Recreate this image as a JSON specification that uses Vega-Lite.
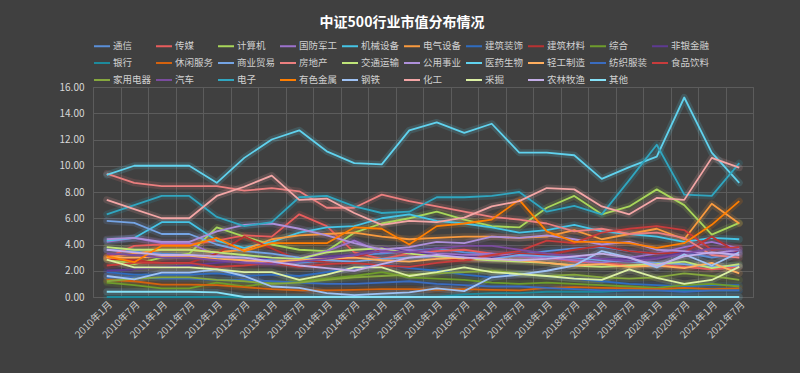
{
"$schema":"https://vega.github.io/schema/vega-lite/v6.json",
"autosize":{"type":"none"},
"width":660,"height":210,
"padding":{"left":93,"top":87,"right":47,"bottom":76},
"background":"#404040",
"title":{"text":"中证500行业市值分布情况","color":"#ffffff","fontSize":14,"fontWeight":"bold","font":"Noto Sans CJK SC","anchor":"middle","dx":-21,"offset":7},
"data":{"values":[
{"t":"2010年1月","s":"通信","v":3.6},{"t":"2010年7月","s":"通信","v":3.5},{"t":"2011年1月","s":"通信","v":3.3},{"t":"2011年7月","s":"通信","v":3.2},{"t":"2012年1月","s":"通信","v":3.0},{"t":"2012年7月","s":"通信","v":3.0},{"t":"2013年1月","s":"通信","v":2.8},{"t":"2013年7月","s":"通信","v":2.6},{"t":"2014年1月","s":"通信","v":2.8},{"t":"2014年7月","s":"通信","v":3.2},{"t":"2015年1月","s":"通信","v":3.3},{"t":"2015年7月","s":"通信","v":3.5},{"t":"2016年1月","s":"通信","v":3.7},{"t":"2016年7月","s":"通信","v":3.4},{"t":"2017年1月","s":"通信","v":3.3},{"t":"2017年7月","s":"通信","v":3.2},{"t":"2018年1月","s":"通信","v":3.5},{"t":"2018年7月","s":"通信","v":3.7},{"t":"2019年1月","s":"通信","v":3.8},{"t":"2019年7月","s":"通信","v":3.5},{"t":"2020年1月","s":"通信","v":3.3},{"t":"2020年7月","s":"通信","v":3.4},{"t":"2021年1月","s":"通信","v":3.0},{"t":"2021年7月","s":"通信","v":3.3},
{"t":"2010年1月","s":"传媒","v":3.0},{"t":"2010年7月","s":"传媒","v":3.9},{"t":"2011年1月","s":"传媒","v":4.0},{"t":"2011年7月","s":"传媒","v":4.0},{"t":"2012年1月","s":"传媒","v":4.3},{"t":"2012年7月","s":"传媒","v":4.7},{"t":"2013年1月","s":"传媒","v":4.6},{"t":"2013年7月","s":"传媒","v":6.3},{"t":"2014年1月","s":"传媒","v":5.4},{"t":"2014年7月","s":"传媒","v":3.4},{"t":"2015年1月","s":"传媒","v":2.9},{"t":"2015年7月","s":"传媒","v":3.3},{"t":"2016年1月","s":"传媒","v":3.5},{"t":"2016年7月","s":"传媒","v":3.6},{"t":"2017年1月","s":"传媒","v":3.3},{"t":"2017年7月","s":"传媒","v":3.1},{"t":"2018年1月","s":"传媒","v":3.0},{"t":"2018年7月","s":"传媒","v":2.7},{"t":"2019年1月","s":"传媒","v":2.6},{"t":"2019年7月","s":"传媒","v":2.4},{"t":"2020年1月","s":"传媒","v":2.5},{"t":"2020年7月","s":"传媒","v":2.3},{"t":"2021年1月","s":"传媒","v":2.1},{"t":"2021年7月","s":"传媒","v":2.3},
{"t":"2010年1月","s":"计算机","v":2.9},{"t":"2010年7月","s":"计算机","v":2.5},{"t":"2011年1月","s":"计算机","v":3.0},{"t":"2011年7月","s":"计算机","v":3.3},{"t":"2012年1月","s":"计算机","v":5.3},{"t":"2012年7月","s":"计算机","v":4.6},{"t":"2013年1月","s":"计算机","v":4.0},{"t":"2013年7月","s":"计算机","v":3.6},{"t":"2014年1月","s":"计算机","v":3.5},{"t":"2014年7月","s":"计算机","v":4.9},{"t":"2015年1月","s":"计算机","v":5.6},{"t":"2015年7月","s":"计算机","v":6.0},{"t":"2016年1月","s":"计算机","v":6.5},{"t":"2016年7月","s":"计算机","v":5.9},{"t":"2017年1月","s":"计算机","v":5.4},{"t":"2017年7月","s":"计算机","v":5.3},{"t":"2018年1月","s":"计算机","v":6.8},{"t":"2018年7月","s":"计算机","v":7.7},{"t":"2019年1月","s":"计算机","v":6.3},{"t":"2019年7月","s":"计算机","v":6.9},{"t":"2020年1月","s":"计算机","v":8.2},{"t":"2020年7月","s":"计算机","v":7.0},{"t":"2021年1月","s":"计算机","v":4.75},{"t":"2021年7月","s":"计算机","v":5.65},
{"t":"2010年1月","s":"国防军工","v":4.2},{"t":"2010年7月","s":"国防军工","v":4.5},{"t":"2011年1月","s":"国防军工","v":4.1},{"t":"2011年7月","s":"国防军工","v":4.1},{"t":"2012年1月","s":"国防军工","v":3.2},{"t":"2012年7月","s":"国防军工","v":2.7},{"t":"2013年1月","s":"国防军工","v":2.6},{"t":"2013年7月","s":"国防军工","v":2.9},{"t":"2014年1月","s":"国防军工","v":3.5},{"t":"2014年7月","s":"国防军工","v":4.3},{"t":"2015年1月","s":"国防军工","v":3.4},{"t":"2015年7月","s":"国防军工","v":3.6},{"t":"2016年1月","s":"国防军工","v":3.3},{"t":"2016年7月","s":"国防军工","v":3.2},{"t":"2017年1月","s":"国防军工","v":3.3},{"t":"2017年7月","s":"国防军工","v":3.1},{"t":"2018年1月","s":"国防军工","v":3.0},{"t":"2018年7月","s":"国防军工","v":2.8},{"t":"2019年1月","s":"国防军工","v":2.6},{"t":"2019年7月","s":"国防军工","v":3.0},{"t":"2020年1月","s":"国防军工","v":3.3},{"t":"2020年7月","s":"国防军工","v":3.8},{"t":"2021年1月","s":"国防军工","v":4.2},{"t":"2021年7月","s":"国防军工","v":3.7},
{"t":"2010年1月","s":"机械设备","v":4.3},{"t":"2010年7月","s":"机械设备","v":4.5},{"t":"2011年1月","s":"机械设备","v":5.7},{"t":"2011年7月","s":"机械设备","v":5.7},{"t":"2012年1月","s":"机械设备","v":4.3},{"t":"2012年7月","s":"机械设备","v":3.75},{"t":"2013年1月","s":"机械设备","v":4.2},{"t":"2013年7月","s":"机械设备","v":4.9},{"t":"2014年1月","s":"机械设备","v":5.3},{"t":"2014年7月","s":"机械设备","v":5.4},{"t":"2015年1月","s":"机械设备","v":6.0},{"t":"2015年7月","s":"机械设备","v":6.3},{"t":"2016年1月","s":"机械设备","v":5.8},{"t":"2016年7月","s":"机械设备","v":5.6},{"t":"2017年1月","s":"机械设备","v":5.3},{"t":"2017年7月","s":"机械设备","v":4.9},{"t":"2018年1月","s":"机械设备","v":5.1},{"t":"2018年7月","s":"机械设备","v":5.5},{"t":"2019年1月","s":"机械设备","v":5.0},{"t":"2019年7月","s":"机械设备","v":4.8},{"t":"2020年1月","s":"机械设备","v":4.6},{"t":"2020年7月","s":"机械设备","v":4.2},{"t":"2021年1月","s":"机械设备","v":4.5},{"t":"2021年7月","s":"机械设备","v":4.4},
{"t":"2010年1月","s":"电气设备","v":3.0},{"t":"2010年7月","s":"电气设备","v":3.3},{"t":"2011年1月","s":"电气设备","v":3.6},{"t":"2011年7月","s":"电气设备","v":3.6},{"t":"2012年1月","s":"电气设备","v":3.4},{"t":"2012年7月","s":"电气设备","v":3.6},{"t":"2013年1月","s":"电气设备","v":4.4},{"t":"2013年7月","s":"电气设备","v":4.7},{"t":"2014年1月","s":"电气设备","v":4.8},{"t":"2014年7月","s":"电气设备","v":4.9},{"t":"2015年1月","s":"电气设备","v":4.6},{"t":"2015年7月","s":"电气设备","v":4.4},{"t":"2016年1月","s":"电气设备","v":4.5},{"t":"2016年7月","s":"电气设备","v":4.6},{"t":"2017年1月","s":"电气设备","v":4.6},{"t":"2017年7月","s":"电气设备","v":4.5},{"t":"2018年1月","s":"电气设备","v":4.6},{"t":"2018年7月","s":"电气设备","v":5.1},{"t":"2019年1月","s":"电气设备","v":4.4},{"t":"2019年7月","s":"电气设备","v":4.8},{"t":"2020年1月","s":"电气设备","v":5.2},{"t":"2020年7月","s":"电气设备","v":4.4},{"t":"2021年1月","s":"电气设备","v":7.1},{"t":"2021年7月","s":"电气设备","v":5.6},
{"t":"2010年1月","s":"建筑装饰","v":1.9},{"t":"2010年7月","s":"建筑装饰","v":1.7},{"t":"2011年1月","s":"建筑装饰","v":1.7},{"t":"2011年7月","s":"建筑装饰","v":1.7},{"t":"2012年1月","s":"建筑装饰","v":1.8},{"t":"2012年7月","s":"建筑装饰","v":1.6},{"t":"2013年1月","s":"建筑装饰","v":1.7},{"t":"2013年7月","s":"建筑装饰","v":1.6},{"t":"2014年1月","s":"建筑装饰","v":1.9},{"t":"2014年7月","s":"建筑装饰","v":2.2},{"t":"2015年1月","s":"建筑装饰","v":2.5},{"t":"2015年7月","s":"建筑装饰","v":2.2},{"t":"2016年1月","s":"建筑装饰","v":2.0},{"t":"2016年7月","s":"建筑装饰","v":1.7},{"t":"2017年1月","s":"建筑装饰","v":1.5},{"t":"2017年7月","s":"建筑装饰","v":1.8},{"t":"2018年1月","s":"建筑装饰","v":1.6},{"t":"2018年7月","s":"建筑装饰","v":1.4},{"t":"2019年1月","s":"建筑装饰","v":1.2},{"t":"2019年7月","s":"建筑装饰","v":1.0},{"t":"2020年1月","s":"建筑装饰","v":0.9},{"t":"2020年7月","s":"建筑装饰","v":0.8},{"t":"2021年1月","s":"建筑装饰","v":0.9},{"t":"2021年7月","s":"建筑装饰","v":0.9},
{"t":"2010年1月","s":"建筑材料","v":2.9},{"t":"2010年7月","s":"建筑材料","v":2.8},{"t":"2011年1月","s":"建筑材料","v":2.6},{"t":"2011年7月","s":"建筑材料","v":2.6},{"t":"2012年1月","s":"建筑材料","v":3.3},{"t":"2012年7月","s":"建筑材料","v":4.6},{"t":"2013年1月","s":"建筑材料","v":3.7},{"t":"2013年7月","s":"建筑材料","v":2.8},{"t":"2014年1月","s":"建筑材料","v":2.7},{"t":"2014年7月","s":"建筑材料","v":3.0},{"t":"2015年1月","s":"建筑材料","v":3.6},{"t":"2015年7月","s":"建筑材料","v":3.3},{"t":"2016年1月","s":"建筑材料","v":3.0},{"t":"2016年7月","s":"建筑材料","v":2.8},{"t":"2017年1月","s":"建筑材料","v":2.9},{"t":"2017年7月","s":"建筑材料","v":3.3},{"t":"2018年1月","s":"建筑材料","v":3.2},{"t":"2018年7月","s":"建筑材料","v":3.6},{"t":"2019年1月","s":"建筑材料","v":3.9},{"t":"2019年7月","s":"建筑材料","v":3.5},{"t":"2020年1月","s":"建筑材料","v":3.3},{"t":"2020年7月","s":"建筑材料","v":3.4},{"t":"2021年1月","s":"建筑材料","v":4.6},{"t":"2021年7月","s":"建筑材料","v":3.3},
{"t":"2010年1月","s":"综合","v":1.1},{"t":"2010年7月","s":"综合","v":0.9},{"t":"2011年1月","s":"综合","v":0.65},{"t":"2011年7月","s":"综合","v":0.65},{"t":"2012年1月","s":"综合","v":1.1},{"t":"2012年7月","s":"综合","v":0.8},{"t":"2013年1月","s":"综合","v":1.1},{"t":"2013年7月","s":"综合","v":1.2},{"t":"2014年1月","s":"综合","v":1.4},{"t":"2014年7月","s":"综合","v":1.6},{"t":"2015年1月","s":"综合","v":1.9},{"t":"2015年7月","s":"综合","v":1.5},{"t":"2016年1月","s":"综合","v":1.4},{"t":"2016年7月","s":"综合","v":1.3},{"t":"2017年1月","s":"综合","v":1.1},{"t":"2017年7月","s":"综合","v":1.0},{"t":"2018年1月","s":"综合","v":1.1},{"t":"2018年7月","s":"综合","v":1.0},{"t":"2019年1月","s":"综合","v":0.9},{"t":"2019年7月","s":"综合","v":0.8},{"t":"2020年1月","s":"综合","v":0.7},{"t":"2020年7月","s":"综合","v":0.9},{"t":"2021年1月","s":"综合","v":1.0},{"t":"2021年7月","s":"综合","v":0.8},
{"t":"2010年1月","s":"非银金融","v":2.0},{"t":"2010年7月","s":"非银金融","v":2.1},{"t":"2011年1月","s":"非银金融","v":2.3},{"t":"2011年7月","s":"非银金融","v":2.4},{"t":"2012年1月","s":"非银金融","v":2.6},{"t":"2012年7月","s":"非银金融","v":2.8},{"t":"2013年1月","s":"非银金融","v":3.0},{"t":"2013年7月","s":"非银金融","v":2.9},{"t":"2014年1月","s":"非银金融","v":3.1},{"t":"2014年7月","s":"非银金融","v":3.2},{"t":"2015年1月","s":"非银金融","v":3.8},{"t":"2015年7月","s":"非银金融","v":3.4},{"t":"2016年1月","s":"非银金融","v":3.2},{"t":"2016年7月","s":"非银金融","v":3.1},{"t":"2017年1月","s":"非银金融","v":3.0},{"t":"2017年7月","s":"非银金融","v":3.2},{"t":"2018年1月","s":"非银金融","v":3.1},{"t":"2018年7月","s":"非银金融","v":3.0},{"t":"2019年1月","s":"非银金融","v":2.9},{"t":"2019年7月","s":"非银金融","v":2.9},{"t":"2020年1月","s":"非银金融","v":3.0},{"t":"2020年7月","s":"非银金融","v":3.4},{"t":"2021年1月","s":"非银金融","v":3.3},{"t":"2021年7月","s":"非银金融","v":3.4},
{"t":"2010年1月","s":"银行","v":0},{"t":"2010年7月","s":"银行","v":0},{"t":"2011年1月","s":"银行","v":0},{"t":"2011年7月","s":"银行","v":0},{"t":"2012年1月","s":"银行","v":0},{"t":"2012年7月","s":"银行","v":0},{"t":"2013年1月","s":"银行","v":0},{"t":"2013年7月","s":"银行","v":0},{"t":"2014年1月","s":"银行","v":0},{"t":"2014年7月","s":"银行","v":0},{"t":"2015年1月","s":"银行","v":0},{"t":"2015年7月","s":"银行","v":0},{"t":"2016年1月","s":"银行","v":0},{"t":"2016年7月","s":"银行","v":0.2},{"t":"2017年1月","s":"银行","v":0.3},{"t":"2017年7月","s":"银行","v":0.3},{"t":"2018年1月","s":"银行","v":0.4},{"t":"2018年7月","s":"银行","v":0.4},{"t":"2019年1月","s":"银行","v":0.4},{"t":"2019年7月","s":"银行","v":0.5},{"t":"2020年1月","s":"银行","v":0.5},{"t":"2020年7月","s":"银行","v":0.5},{"t":"2021年1月","s":"银行","v":0.5},{"t":"2021年7月","s":"银行","v":0.5},
{"t":"2010年1月","s":"休闲服务","v":1.3},{"t":"2010年7月","s":"休闲服务","v":1.2},{"t":"2011年1月","s":"休闲服务","v":0.95},{"t":"2011年7月","s":"休闲服务","v":0.95},{"t":"2012年1月","s":"休闲服务","v":0.9},{"t":"2012年7月","s":"休闲服务","v":0.75},{"t":"2013年1月","s":"休闲服务","v":0.6},{"t":"2013年7月","s":"休闲服务","v":0.5},{"t":"2014年1月","s":"休闲服务","v":0.5},{"t":"2014年7月","s":"休闲服务","v":0.55},{"t":"2015年1月","s":"休闲服务","v":0.6},{"t":"2015年7月","s":"休闲服务","v":0.6},{"t":"2016年1月","s":"休闲服务","v":0.55},{"t":"2016年7月","s":"休闲服务","v":0.6},{"t":"2017年1月","s":"休闲服务","v":0.55},{"t":"2017年7月","s":"休闲服务","v":0.5},{"t":"2018年1月","s":"休闲服务","v":0.7},{"t":"2018年7月","s":"休闲服务","v":0.75},{"t":"2019年1月","s":"休闲服务","v":0.7},{"t":"2019年7月","s":"休闲服务","v":0.65},{"t":"2020年1月","s":"休闲服务","v":0.6},{"t":"2020年7月","s":"休闲服务","v":0.7},{"t":"2021年1月","s":"休闲服务","v":0.6},{"t":"2021年7月","s":"休闲服务","v":0.65},
{"t":"2010年1月","s":"商业贸易","v":5.8},{"t":"2010年7月","s":"商业贸易","v":5.65},{"t":"2011年1月","s":"商业贸易","v":4.8},{"t":"2011年7月","s":"商业贸易","v":4.8},{"t":"2012年1月","s":"商业贸易","v":4.0},{"t":"2012年7月","s":"商业贸易","v":3.5},{"t":"2013年1月","s":"商业贸易","v":3.3},{"t":"2013年7月","s":"商业贸易","v":3.0},{"t":"2014年1月","s":"商业贸易","v":2.8},{"t":"2014年7月","s":"商业贸易","v":2.7},{"t":"2015年1月","s":"商业贸易","v":2.9},{"t":"2015年7月","s":"商业贸易","v":3.0},{"t":"2016年1月","s":"商业贸易","v":3.1},{"t":"2016年7月","s":"商业贸易","v":3.0},{"t":"2017年1月","s":"商业贸易","v":2.9},{"t":"2017年7月","s":"商业贸易","v":3.2},{"t":"2018年1月","s":"商业贸易","v":3.1},{"t":"2018年7月","s":"商业贸易","v":3.0},{"t":"2019年1月","s":"商业贸易","v":2.8},{"t":"2019年7月","s":"商业贸易","v":2.7},{"t":"2020年1月","s":"商业贸易","v":2.6},{"t":"2020年7月","s":"商业贸易","v":2.5},{"t":"2021年1月","s":"商业贸易","v":2.3},{"t":"2021年7月","s":"商业贸易","v":2.4},
{"t":"2010年1月","s":"房地产","v":9.4},{"t":"2010年7月","s":"房地产","v":8.7},{"t":"2011年1月","s":"房地产","v":8.45},{"t":"2011年7月","s":"房地产","v":8.45},{"t":"2012年1月","s":"房地产","v":8.45},{"t":"2012年7月","s":"房地产","v":8.1},{"t":"2013年1月","s":"房地产","v":8.3},{"t":"2013年7月","s":"房地产","v":8.05},{"t":"2014年1月","s":"房地产","v":6.8},{"t":"2014年7月","s":"房地产","v":6.8},{"t":"2015年1月","s":"房地产","v":7.8},{"t":"2015年7月","s":"房地产","v":7.3},{"t":"2016年1月","s":"房地产","v":6.9},{"t":"2016年7月","s":"房地产","v":6.5},{"t":"2017年1月","s":"房地产","v":6.1},{"t":"2017年7月","s":"房地产","v":5.9},{"t":"2018年1月","s":"房地产","v":5.6},{"t":"2018年7月","s":"房地产","v":5.0},{"t":"2019年1月","s":"房地产","v":5.2},{"t":"2019年7月","s":"房地产","v":4.8},{"t":"2020年1月","s":"房地产","v":4.9},{"t":"2020年7月","s":"房地产","v":4.5},{"t":"2021年1月","s":"房地产","v":3.2},{"t":"2021年7月","s":"房地产","v":3.0},
{"t":"2010年1月","s":"交通运输","v":3.8},{"t":"2010年7月","s":"交通运输","v":3.6},{"t":"2011年1月","s":"交通运输","v":3.6},{"t":"2011年7月","s":"交通运输","v":3.6},{"t":"2012年1月","s":"交通运输","v":3.4},{"t":"2012年7月","s":"交通运输","v":3.2},{"t":"2013年1月","s":"交通运输","v":3.0},{"t":"2013年7月","s":"交通运输","v":2.9},{"t":"2014年1月","s":"交通运输","v":3.4},{"t":"2014年7月","s":"交通运输","v":3.6},{"t":"2015年1月","s":"交通运输","v":3.7},{"t":"2015年7月","s":"交通运输","v":3.3},{"t":"2016年1月","s":"交通运输","v":3.1},{"t":"2016年7月","s":"交通运输","v":2.9},{"t":"2017年1月","s":"交通运输","v":2.8},{"t":"2017年7月","s":"交通运输","v":2.7},{"t":"2018年1月","s":"交通运输","v":2.6},{"t":"2018年7月","s":"交通运输","v":2.4},{"t":"2019年1月","s":"交通运输","v":2.3},{"t":"2019年7月","s":"交通运输","v":2.4},{"t":"2020年1月","s":"交通运输","v":2.5},{"t":"2020年7月","s":"交通运输","v":2.7},{"t":"2021年1月","s":"交通运输","v":2.2},{"t":"2021年7月","s":"交通运输","v":2.5},
{"t":"2010年1月","s":"公用事业","v":4.4},{"t":"2010年7月","s":"公用事业","v":4.5},{"t":"2011年1月","s":"公用事业","v":4.2},{"t":"2011年7月","s":"公用事业","v":4.2},{"t":"2012年1月","s":"公用事业","v":5.0},{"t":"2012年7月","s":"公用事业","v":5.5},{"t":"2013年1月","s":"公用事业","v":5.6},{"t":"2013年7月","s":"公用事业","v":5.2},{"t":"2014年1月","s":"公用事业","v":4.7},{"t":"2014年7月","s":"公用事业","v":4.1},{"t":"2015年1月","s":"公用事业","v":3.6},{"t":"2015年7月","s":"公用事业","v":3.8},{"t":"2016年1月","s":"公用事业","v":4.2},{"t":"2016年7月","s":"公用事业","v":4.1},{"t":"2017年1月","s":"公用事业","v":4.6},{"t":"2017年7月","s":"公用事业","v":4.5},{"t":"2018年1月","s":"公用事业","v":4.7},{"t":"2018年7月","s":"公用事业","v":4.4},{"t":"2019年1月","s":"公用事业","v":4.0},{"t":"2019年7月","s":"公用事业","v":4.2},{"t":"2020年1月","s":"公用事业","v":3.6},{"t":"2020年7月","s":"公用事业","v":3.5},{"t":"2021年1月","s":"公用事业","v":3.3},{"t":"2021年7月","s":"公用事业","v":3.6},
{"t":"2010年1月","s":"医药生物","v":9.3},{"t":"2010年7月","s":"医药生物","v":10.0},{"t":"2011年1月","s":"医药生物","v":10.0},{"t":"2011年7月","s":"医药生物","v":10.0},{"t":"2012年1月","s":"医药生物","v":8.7},{"t":"2012年7月","s":"医药生物","v":10.6},{"t":"2013年1月","s":"医药生物","v":12.0},{"t":"2013年7月","s":"医药生物","v":12.7},{"t":"2014年1月","s":"医药生物","v":11.1},{"t":"2014年7月","s":"医药生物","v":10.2},{"t":"2015年1月","s":"医药生物","v":10.1},{"t":"2015年7月","s":"医药生物","v":12.7},{"t":"2016年1月","s":"医药生物","v":13.3},{"t":"2016年7月","s":"医药生物","v":12.5},{"t":"2017年1月","s":"医药生物","v":13.2},{"t":"2017年7月","s":"医药生物","v":11.0},{"t":"2018年1月","s":"医药生物","v":11.0},{"t":"2018年7月","s":"医药生物","v":10.8},{"t":"2019年1月","s":"医药生物","v":9.0},{"t":"2019年7月","s":"医药生物","v":9.9},{"t":"2020年1月","s":"医药生物","v":10.7},{"t":"2020年7月","s":"医药生物","v":15.2},{"t":"2021年1月","s":"医药生物","v":11.0},{"t":"2021年7月","s":"医药生物","v":8.7},
{"t":"2010年1月","s":"轻工制造","v":3.0},{"t":"2010年7月","s":"轻工制造","v":3.0},{"t":"2011年1月","s":"轻工制造","v":3.1},{"t":"2011年7月","s":"轻工制造","v":3.1},{"t":"2012年1月","s":"轻工制造","v":2.9},{"t":"2012年7月","s":"轻工制造","v":2.8},{"t":"2013年1月","s":"轻工制造","v":2.7},{"t":"2013年7月","s":"轻工制造","v":2.8},{"t":"2014年1月","s":"轻工制造","v":2.9},{"t":"2014年7月","s":"轻工制造","v":3.0},{"t":"2015年1月","s":"轻工制造","v":2.8},{"t":"2015年7月","s":"轻工制造","v":2.7},{"t":"2016年1月","s":"轻工制造","v":2.9},{"t":"2016年7月","s":"轻工制造","v":3.0},{"t":"2017年1月","s":"轻工制造","v":2.9},{"t":"2017年7月","s":"轻工制造","v":2.8},{"t":"2018年1月","s":"轻工制造","v":2.6},{"t":"2018年7月","s":"轻工制造","v":2.4},{"t":"2019年1月","s":"轻工制造","v":2.5},{"t":"2019年7月","s":"轻工制造","v":2.3},{"t":"2020年1月","s":"轻工制造","v":2.4},{"t":"2020年7月","s":"轻工制造","v":2.2},{"t":"2021年1月","s":"轻工制造","v":2.6},{"t":"2021年7月","s":"轻工制造","v":1.8},
{"t":"2010年1月","s":"纺织服装","v":1.5},{"t":"2010年7月","s":"纺织服装","v":1.5},{"t":"2011年1月","s":"纺织服装","v":1.4},{"t":"2011年7月","s":"纺织服装","v":1.4},{"t":"2012年1月","s":"纺织服装","v":1.3},{"t":"2012年7月","s":"纺织服装","v":1.3},{"t":"2013年1月","s":"纺织服装","v":1.2},{"t":"2013年7月","s":"纺织服装","v":1.1},{"t":"2014年1月","s":"纺织服装","v":1.0},{"t":"2014年7月","s":"纺织服装","v":1.0},{"t":"2015年1月","s":"纺织服装","v":1.1},{"t":"2015年7月","s":"纺织服装","v":1.2},{"t":"2016年1月","s":"纺织服装","v":1.0},{"t":"2016年7月","s":"纺织服装","v":0.9},{"t":"2017年1月","s":"纺织服装","v":0.8},{"t":"2017年7月","s":"纺织服装","v":0.8},{"t":"2018年1月","s":"纺织服装","v":0.7},{"t":"2018年7月","s":"纺织服装","v":0.6},{"t":"2019年1月","s":"纺织服装","v":0.5},{"t":"2019年7月","s":"纺织服装","v":0.5},{"t":"2020年1月","s":"纺织服装","v":0.5},{"t":"2020年7月","s":"纺织服装","v":0.4},{"t":"2021年1月","s":"纺织服装","v":0.5},{"t":"2021年7月","s":"纺织服装","v":0.5},
{"t":"2010年1月","s":"食品饮料","v":2.4},{"t":"2010年7月","s":"食品饮料","v":2.6},{"t":"2011年1月","s":"食品饮料","v":2.6},{"t":"2011年7月","s":"食品饮料","v":2.6},{"t":"2012年1月","s":"食品饮料","v":2.3},{"t":"2012年7月","s":"食品饮料","v":2.4},{"t":"2013年1月","s":"食品饮料","v":2.6},{"t":"2013年7月","s":"食品饮料","v":2.3},{"t":"2014年1月","s":"食品饮料","v":2.5},{"t":"2014年7月","s":"食品饮料","v":2.6},{"t":"2015年1月","s":"食品饮料","v":2.4},{"t":"2015年7月","s":"食品饮料","v":2.3},{"t":"2016年1月","s":"食品饮料","v":2.6},{"t":"2016年7月","s":"食品饮料","v":2.8},{"t":"2017年1月","s":"食品饮料","v":3.2},{"t":"2017年7月","s":"食品饮料","v":3.5},{"t":"2018年1月","s":"食品饮料","v":4.3},{"t":"2018年7月","s":"食品饮料","v":4.1},{"t":"2019年1月","s":"食品饮料","v":4.9},{"t":"2019年7月","s":"食品饮料","v":5.2},{"t":"2020年1月","s":"食品饮料","v":5.4},{"t":"2020年7月","s":"食品饮料","v":5.1},{"t":"2021年1月","s":"食品饮料","v":3.6},{"t":"2021年7月","s":"食品饮料","v":3.8},
{"t":"2010年1月","s":"家用电器","v":1.2},{"t":"2010年7月","s":"家用电器","v":1.4},{"t":"2011年1月","s":"家用电器","v":1.5},{"t":"2011年7月","s":"家用电器","v":1.5},{"t":"2012年1月","s":"家用电器","v":1.3},{"t":"2012年7月","s":"家用电器","v":1.2},{"t":"2013年1月","s":"家用电器","v":1.0},{"t":"2013年7月","s":"家用电器","v":1.1},{"t":"2014年1月","s":"家用电器","v":1.3},{"t":"2014年7月","s":"家用电器","v":1.5},{"t":"2015年1月","s":"家用电器","v":1.6},{"t":"2015年7月","s":"家用电器","v":1.7},{"t":"2016年1月","s":"家用电器","v":1.8},{"t":"2016年7月","s":"家用电器","v":1.9},{"t":"2017年1月","s":"家用电器","v":2.0},{"t":"2017年7月","s":"家用电器","v":1.8},{"t":"2018年1月","s":"家用电器","v":1.6},{"t":"2018年7月","s":"家用电器","v":1.7},{"t":"2019年1月","s":"家用电器","v":1.5},{"t":"2019年7月","s":"家用电器","v":1.4},{"t":"2020年1月","s":"家用电器","v":1.5},{"t":"2020年7月","s":"家用电器","v":1.8},{"t":"2021年1月","s":"家用电器","v":1.6},{"t":"2021年7月","s":"家用电器","v":1.3},
{"t":"2010年1月","s":"汽车","v":3.3},{"t":"2010年7月","s":"汽车","v":3.2},{"t":"2011年1月","s":"汽车","v":3.0},{"t":"2011年7月","s":"汽车","v":3.0},{"t":"2012年1月","s":"汽车","v":2.8},{"t":"2012年7月","s":"汽车","v":2.6},{"t":"2013年1月","s":"汽车","v":2.5},{"t":"2013年7月","s":"汽车","v":2.7},{"t":"2014年1月","s":"汽车","v":2.9},{"t":"2014年7月","s":"汽车","v":3.2},{"t":"2015年1月","s":"汽车","v":3.5},{"t":"2015年7月","s":"汽车","v":3.4},{"t":"2016年1月","s":"汽车","v":3.7},{"t":"2016年7月","s":"汽车","v":3.9},{"t":"2017年1月","s":"汽车","v":3.9},{"t":"2017年7月","s":"汽车","v":3.6},{"t":"2018年1月","s":"汽车","v":3.3},{"t":"2018年7月","s":"汽车","v":3.1},{"t":"2019年1月","s":"汽车","v":2.9},{"t":"2019年7月","s":"汽车","v":2.7},{"t":"2020年1月","s":"汽车","v":2.9},{"t":"2020年7月","s":"汽车","v":3.3},{"t":"2021年1月","s":"汽车","v":3.7},{"t":"2021年7月","s":"汽车","v":3.6},
{"t":"2010年1月","s":"电子","v":6.3},{"t":"2010年7月","s":"电子","v":7.0},{"t":"2011年1月","s":"电子","v":7.7},{"t":"2011年7月","s":"电子","v":7.7},{"t":"2012年1月","s":"电子","v":6.1},{"t":"2012年7月","s":"电子","v":5.4},{"t":"2013年1月","s":"电子","v":5.7},{"t":"2013年7月","s":"电子","v":7.6},{"t":"2014年1月","s":"电子","v":7.7},{"t":"2014年7月","s":"电子","v":6.9},{"t":"2015年1月","s":"电子","v":6.4},{"t":"2015年7月","s":"电子","v":6.5},{"t":"2016年1月","s":"电子","v":7.6},{"t":"2016年7月","s":"电子","v":7.6},{"t":"2017年1月","s":"电子","v":7.7},{"t":"2017年7月","s":"电子","v":8.0},{"t":"2018年1月","s":"电子","v":6.5},{"t":"2018年7月","s":"电子","v":6.95},{"t":"2019年1月","s":"电子","v":6.3},{"t":"2019年7月","s":"电子","v":8.9},{"t":"2020年1月","s":"电子","v":11.6},{"t":"2020年7月","s":"电子","v":7.8},{"t":"2021年1月","s":"电子","v":7.7},{"t":"2021年7月","s":"电子","v":10.2},
{"t":"2010年1月","s":"有色金属","v":3.1},{"t":"2010年7月","s":"有色金属","v":2.65},{"t":"2011年1月","s":"有色金属","v":3.9},{"t":"2011年7月","s":"有色金属","v":3.9},{"t":"2012年1月","s":"有色金属","v":4.5},{"t":"2012年7月","s":"有色金属","v":3.5},{"t":"2013年1月","s":"有色金属","v":4.1},{"t":"2013年7月","s":"有色金属","v":4.1},{"t":"2014年1月","s":"有色金属","v":4.1},{"t":"2014年7月","s":"有色金属","v":5.3},{"t":"2015年1月","s":"有色金属","v":5.2},{"t":"2015年7月","s":"有色金属","v":4.0},{"t":"2016年1月","s":"有色金属","v":5.4},{"t":"2016年7月","s":"有色金属","v":5.6},{"t":"2017年1月","s":"有色金属","v":5.9},{"t":"2017年7月","s":"有色金属","v":7.4},{"t":"2018年1月","s":"有色金属","v":5.0},{"t":"2018年7月","s":"有色金属","v":4.2},{"t":"2019年1月","s":"有色金属","v":4.2},{"t":"2019年7月","s":"有色金属","v":4.1},{"t":"2020年1月","s":"有色金属","v":3.75},{"t":"2020年7月","s":"有色金属","v":4.1},{"t":"2021年1月","s":"有色金属","v":5.5},{"t":"2021年7月","s":"有色金属","v":7.3},
{"t":"2010年1月","s":"钢铁","v":1.6},{"t":"2010年7月","s":"钢铁","v":1.35},{"t":"2011年1月","s":"钢铁","v":1.85},{"t":"2011年7月","s":"钢铁","v":1.85},{"t":"2012年1月","s":"钢铁","v":2.1},{"t":"2012年7月","s":"钢铁","v":1.6},{"t":"2013年1月","s":"钢铁","v":0.8},{"t":"2013年7月","s":"钢铁","v":0.7},{"t":"2014年1月","s":"钢铁","v":0.3},{"t":"2014年7月","s":"钢铁","v":0.15},{"t":"2015年1月","s":"钢铁","v":0.25},{"t":"2015年7月","s":"钢铁","v":0.35},{"t":"2016年1月","s":"钢铁","v":0.65},{"t":"2016年7月","s":"钢铁","v":0.45},{"t":"2017年1月","s":"钢铁","v":1.5},{"t":"2017年7月","s":"钢铁","v":1.7},{"t":"2018年1月","s":"钢铁","v":2.0},{"t":"2018年7月","s":"钢铁","v":2.4},{"t":"2019年1月","s":"钢铁","v":3.5},{"t":"2019年7月","s":"钢铁","v":3.0},{"t":"2020年1月","s":"钢铁","v":2.25},{"t":"2020年7月","s":"钢铁","v":3.25},{"t":"2021年1月","s":"钢铁","v":2.4},{"t":"2021年7月","s":"钢铁","v":3.4},
{"t":"2010年1月","s":"化工","v":7.4},{"t":"2010年7月","s":"化工","v":6.7},{"t":"2011年1月","s":"化工","v":6.0},{"t":"2011年7月","s":"化工","v":6.0},{"t":"2012年1月","s":"化工","v":7.7},{"t":"2012年7月","s":"化工","v":8.4},{"t":"2013年1月","s":"化工","v":9.25},{"t":"2013年7月","s":"化工","v":7.4},{"t":"2014年1月","s":"化工","v":7.5},{"t":"2014年7月","s":"化工","v":6.4},{"t":"2015年1月","s":"化工","v":5.5},{"t":"2015年7月","s":"化工","v":5.8},{"t":"2016年1月","s":"化工","v":5.7},{"t":"2016年7月","s":"化工","v":6.05},{"t":"2017年1月","s":"化工","v":6.9},{"t":"2017年7月","s":"化工","v":7.3},{"t":"2018年1月","s":"化工","v":8.3},{"t":"2018年7月","s":"化工","v":8.2},{"t":"2019年1月","s":"化工","v":6.9},{"t":"2019年7月","s":"化工","v":6.3},{"t":"2020年1月","s":"化工","v":7.55},{"t":"2020年7月","s":"化工","v":7.4},{"t":"2021年1月","s":"化工","v":10.6},{"t":"2021年7月","s":"化工","v":9.85},
{"t":"2010年1月","s":"采掘","v":2.85},{"t":"2010年7月","s":"采掘","v":2.25},{"t":"2011年1月","s":"采掘","v":2.25},{"t":"2011年7月","s":"采掘","v":2.25},{"t":"2012年1月","s":"采掘","v":2.1},{"t":"2012年7月","s":"采掘","v":1.9},{"t":"2013年1月","s":"采掘","v":1.9},{"t":"2013年7月","s":"采掘","v":1.3},{"t":"2014年1月","s":"采掘","v":1.7},{"t":"2014年7月","s":"采掘","v":2.25},{"t":"2015年1月","s":"采掘","v":2.25},{"t":"2015年7月","s":"采掘","v":1.6},{"t":"2016年1月","s":"采掘","v":1.9},{"t":"2016年7月","s":"采掘","v":2.25},{"t":"2017年1月","s":"采掘","v":1.9},{"t":"2017年7月","s":"采掘","v":1.75},{"t":"2018年1月","s":"采掘","v":1.6},{"t":"2018年7月","s":"采掘","v":1.4},{"t":"2019年1月","s":"采掘","v":1.3},{"t":"2019年7月","s":"采掘","v":2.1},{"t":"2020年1月","s":"采掘","v":1.45},{"t":"2020年7月","s":"采掘","v":1.0},{"t":"2021年1月","s":"采掘","v":1.3},{"t":"2021年7月","s":"采掘","v":2.3},
{"t":"2010年1月","s":"农林牧渔","v":3.6},{"t":"2010年7月","s":"农林牧渔","v":3.4},{"t":"2011年1月","s":"农林牧渔","v":3.2},{"t":"2011年7月","s":"农林牧渔","v":3.2},{"t":"2012年1月","s":"农林牧渔","v":3.1},{"t":"2012年7月","s":"农林牧渔","v":3.0},{"t":"2013年1月","s":"农林牧渔","v":2.7},{"t":"2013年7月","s":"农林牧渔","v":2.4},{"t":"2014年1月","s":"农林牧渔","v":2.2},{"t":"2014年7月","s":"农林牧渔","v":2.0},{"t":"2015年1月","s":"农林牧渔","v":2.5},{"t":"2015年7月","s":"农林牧渔","v":3.0},{"t":"2016年1月","s":"农林牧渔","v":3.2},{"t":"2016年7月","s":"农林牧渔","v":3.0},{"t":"2017年1月","s":"农林牧渔","v":2.9},{"t":"2017年7月","s":"农林牧渔","v":2.8},{"t":"2018年1月","s":"农林牧渔","v":2.9},{"t":"2018年7月","s":"农林牧渔","v":3.1},{"t":"2019年1月","s":"农林牧渔","v":3.3},{"t":"2019年7月","s":"农林牧渔","v":3.0},{"t":"2020年1月","s":"农林牧渔","v":2.4},{"t":"2020年7月","s":"农林牧渔","v":3.1},{"t":"2021年1月","s":"农林牧渔","v":3.4},{"t":"2021年7月","s":"农林牧渔","v":3.2},
{"t":"2010年1月","s":"其他","v":0.4},{"t":"2010年7月","s":"其他","v":0.4},{"t":"2011年1月","s":"其他","v":0.4},{"t":"2011年7月","s":"其他","v":0.4},{"t":"2012年1月","s":"其他","v":0.35},{"t":"2012年7月","s":"其他","v":0},{"t":"2013年1月","s":"其他","v":0},{"t":"2013年7月","s":"其他","v":0},{"t":"2014年1月","s":"其他","v":0},{"t":"2014年7月","s":"其他","v":0},{"t":"2015年1月","s":"其他","v":0},{"t":"2015年7月","s":"其他","v":0},{"t":"2016年1月","s":"其他","v":0},{"t":"2016年7月","s":"其他","v":0},{"t":"2017年1月","s":"其他","v":0},{"t":"2017年7月","s":"其他","v":0},{"t":"2018年1月","s":"其他","v":0},{"t":"2018年7月","s":"其他","v":0},{"t":"2019年1月","s":"其他","v":0},{"t":"2019年7月","s":"其他","v":0},{"t":"2020年1月","s":"其他","v":0},{"t":"2020年7月","s":"其他","v":0},{"t":"2021年1月","s":"其他","v":0},{"t":"2021年7月","s":"其他","v":0}
]},
"encoding":{
"x":{"field":"t","type":"ordinal","sort":null,"scale":{"paddingInner":0,"paddingOuter":0},
"axis":{"title":null,"labelAngle":-45,"labelAlign":"right","labelBaseline":"top","labelFontSize":10,"labelColor":"#c8c8c8","labelPadding":2,"tickBand":"extent","grid":true,"ticks":false,"domain":false}},
"y":{"field":"v","type":"quantitative","scale":{"domain":[0,16],"nice":false},
"axis":{"title":null,"values":[0,2,4,6,8,10,12,14,16],"format":".2f","labelFontSize":10,"labelColor":"#d8d8d8","labelPadding":9,"grid":true,"ticks":false,"domain":false}},
"color":{"field":"s","type":"nominal","sort":null,
"scale":{"domain":["通信","传媒","计算机","国防军工","机械设备","电气设备","建筑装饰","建筑材料","综合","非银金融","银行","休闲服务","商业贸易","房地产","交通运输","公用事业","医药生物","轻工制造","纺织服装","食品饮料","家用电器","汽车","电子","有色金属","钢铁","化工","采掘","农林牧渔","其他"],
"range":["#5a8fd8","#e85c5c","#a8d65a","#9c72cc","#45c4e6","#f99a3e","#2f6cc0","#b83232","#6e9c2c","#5e3a92","#1d8a9c","#d4620e","#74a4e4","#ec7f7f","#bfe478","#ae90da","#60d2ee","#ffae5e","#3a6cc0","#c83c3c","#86a83e","#7a4c9e","#30a6c0","#ff7e00","#9fc2f4","#f4a6a6","#dcf0a4","#c4aee8","#86e2f8"]},
"legend":{"title":null,"orient":"top","columns":10,"gridAlign":"all","symbolType":"stroke","symbolSize":256,"symbolStrokeWidth":2,"symbolOpacity":1,"labelColor":"#d0d0d0","labelFontSize":9.5,"labelFont":"Noto Sans CJK SC","labelOffset":2,"columnPadding":0,"rowPadding":3,"offset":2,"labelLimit":60}}
},
"layer":[
{"mark":{"type":"line","strokeWidth":7,"opacity":0.16,"strokeJoin":"round","strokeCap":"round"}},
{"mark":{"type":"line","strokeWidth":1.8,"strokeJoin":"round"}}
],
"config":{
"view":{"stroke":"#5c5c5c"},
"axis":{"gridColor":"#5c5c5c","gridWidth":1,"labelFont":"Noto Sans CJK SC"},
"legend":{"labelFont":"Noto Sans CJK SC"}
}
}
